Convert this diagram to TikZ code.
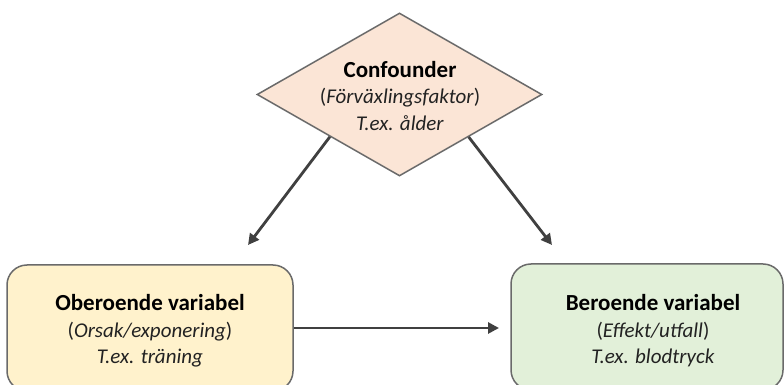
\documentclass[tikz,border=0pt]{standalone}
\usepackage{fontspec}
\setmainfont{Carlito}
\usetikzlibrary{shapes.geometric,arrows.meta,calc}
\definecolor{peach}{HTML}{FBE5D6}
\definecolor{lyellow}{HTML}{FFF2CC}
\definecolor{lgreen}{HTML}{E2F0D9}
\definecolor{edgegray}{HTML}{6A6A6A}
\definecolor{arrgray}{HTML}{404040}
\definecolor{txtgray}{HTML}{222222}
\tikzset{
  diamondbox/.style={diamond, draw=edgegray, line width=1.5pt, fill=peach, inner sep=0pt,
    minimum width=285pt, minimum height=163pt},
  varbox/.style={draw=edgegray, line width=1.5pt, rounded corners=20pt, inner sep=0pt},
  lbl/.style={align=center, text=txtgray, font=\fontsize{21}{26.5}\selectfont},
  boldline/.style={},
  arr/.style={draw=arrgray, line width=2.8pt, -{Triangle[length=11pt,width=11pt]}}
}
\newcommand{\hdline}[1]{{\fontsize{23}{26.5}\selectfont\bfseries\color{black}#1}}
\begin{document}
\begin{tikzpicture}[x=1pt,y=1pt]
\useasboundingbox (0,0) rectangle (784,385);
\clip (0,0) rectangle (784,385);
\fill[white] (0,0) rectangle (784,385);
% nodes
\node[diamondbox] (conf) at (399.5,290.5) {};
\node[varbox, fill=lyellow, minimum width=286pt, minimum height=126pt] (oberoende) at (150,57) {};
\node[varbox, fill=lgreen, minimum width=272pt, minimum height=126pt] (beroende) at (647,58) {};
% texts
\node[lbl] (conftxt) at (400,289) {\hdline{Confounder}\\(\textit{Förväxlingsfaktor})\\\textit{T.ex. ålder}};
\node[lbl] (obtxt) at (150,54) {\hdline{Oberoende variabel}\\(\textit{Orsak/exponering})\\\textit{T.ex. träning}};
\node[lbl] (bertxt) at (653,54) {\hdline{Beroende variabel}\\(\textit{Effekt/utfall})\\\textit{T.ex. blodtryck}};
% connectors
\coordinate (lstart) at ($(conf.west)!0.514!(conf.south)$);
\coordinate (rstart) at ($(conf.east)!0.517!(conf.south)$);
\coordinate (lend) at (248,140);
\coordinate (rend) at (552,140);
\coordinate (hend) at (499,57);
\draw[arr] (lstart) -- (lend);
\draw[arr] (rstart) -- (rend);
\draw[arr] (oberoende.east) -- (hend);
\end{tikzpicture}
\end{document}
